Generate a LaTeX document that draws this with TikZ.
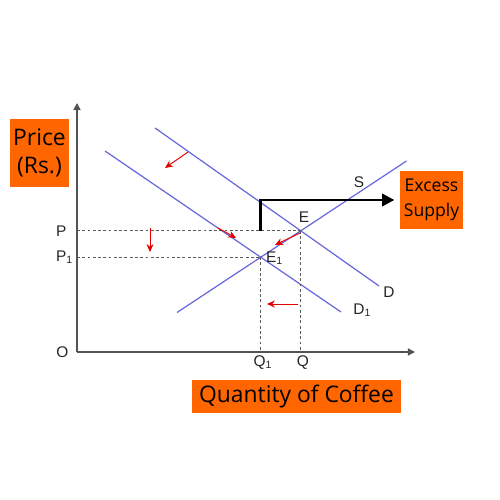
\documentclass[tikz,border=0pt]{standalone}
\usepackage{fontspec}
\setmainfont{Liberation Sans}
\newfontfamily\boxfont{Open Sans}
\usetikzlibrary{arrows.meta, positioning, intersections, calc}

\definecolor{curveblue}{RGB}{104,104,222}
\definecolor{boxorange}{RGB}{255,102,0}
\newcommand{\sub}[1]{\raisebox{-0.25ex}{\fontsize{6}{7}\selectfont #1}}

\begin{document}
\begin{tikzpicture}[
  font=\fontsize{8.8}{10}\selectfont,
  axis/.style={draw=gray!65!black, line width=0.9pt, -{Triangle[length=4pt, width=4pt]}},
  curve/.style={draw=curveblue, line width=0.7pt},
  guide/.style={draw=gray!70!black, dash pattern=on 1.6pt off 1.4pt, line width=0.6pt},
  shiftarr/.style={-{Stealth[length=4.5pt, width=4pt]}, draw=red!90!black, line width=0.55pt},
  excess/.style={-{Triangle[length=7pt, width=7pt]}, line width=1.5pt},
  tag/.style={fill=boxorange, text=black, align=center, inner sep=0pt,
              font=\boxfont\fontsize{13}{16}\selectfont},
  lbl/.style={inner sep=1pt, text=black!85}
]
\useasboundingbox (0,0) rectangle (10,10);

% axes
\coordinate (O) at (1.54, 2.96);
\draw[axis] (O) -- (1.54, 7.94);
\draw[axis] (O) -- (8.30, 2.96);

% supply and demand
\draw[curve, name path=D]  (3.10, 7.44) -- (7.58, 4.28);
\draw[curve, name path=D1] (2.10, 6.98) -- (6.82, 3.76);
\draw[curve, name path=S]  (3.54, 3.75) -- (8.13, 6.78);
\path[name intersections={of=S and D, by=E}];
\path[name intersections={of=S and D1, by=E1}];

\draw[guide] (E -| O) -- (E);
\draw[guide] (E1 -| O) -- (E1);
\draw[guide] (E) -- (E |- O);
\draw[guide] (E1) -- (E1 |- O);

% labels
\node[lbl] (o) at (1.25, 2.96) {O};
\node[lbl, anchor=west] (p) at (1.08, 5.38) {P};
\node[lbl, anchor=west] (p1) at (1.08, 4.85) {P\sub{1}};
\node[lbl] (q1) at (5.25, 2.74) {Q\sub{1}};
\node[lbl] (q) at (6.06, 2.74) {Q};
\node[lbl] (e) at (6.08, 5.66) {E};
\node[lbl, anchor=west] (e1) at (5.28, 4.84) {E\sub{1}};
\node[lbl] (s) at (7.18, 6.36) {S};
\node[lbl] (d) at (7.78, 4.16) {D};
\node[lbl] (d1) at (7.24, 3.80) {D\sub{1}};

% shifts
\draw[shiftarr] (3.76, 6.96) -- (3.30, 6.64);
\draw[shiftarr] (3.00, 5.44) -- (3.00, 4.96);
\draw[shiftarr] (4.36, 5.44) -- (4.72, 5.24);
\draw[shiftarr] (6.00, 5.34) -- (5.50, 5.10);
\draw[shiftarr] (5.96, 3.92) -- (5.34, 3.92);

% boxes
\node[tag, minimum width=1.18cm, minimum height=1.36cm] (price) at (0.79, 6.94)
  {Price\\(Rs.)};
\node[tag, minimum width=4.18cm, minimum height=0.66cm] (qty) at (5.93, 2.07)
  {Quantity of Coffee};
\node[tag, minimum width=1.26cm, minimum height=1.16cm,
      font=\boxfont\fontsize{10}{14}\selectfont] (excessbox) at (8.63, 6.00)
  {Excess\\Supply};

\draw[excess] (E1 |- E) |- ([xshift=-3pt]excessbox.west);

\end{tikzpicture}
\end{document}
